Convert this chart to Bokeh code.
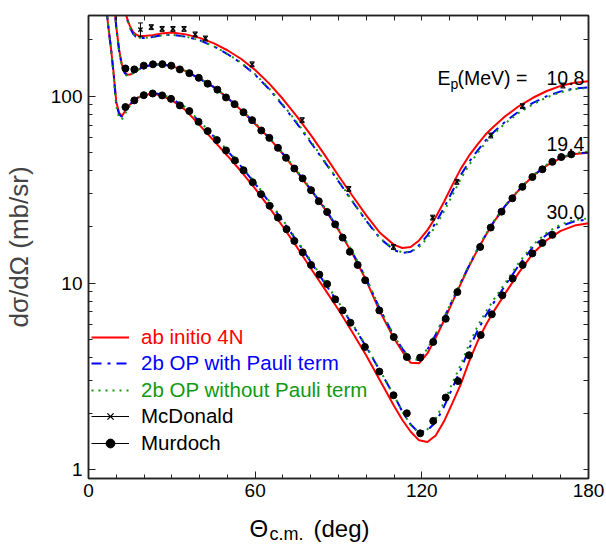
import numpy as np
from bokeh.plotting import figure
from bokeh.layouts import column
from bokeh.models import (Range1d, LogAxis, LinearAxis, FixedTicker, Legend, LegendItem,
                          Label, PrintfTickFormatter)
from bokeh.core.properties import value
from bokeh.embed import file_html
from bokeh.resources import INLINE

nan = float("nan")

# ---------------- data ----------------
angle = [6.5, 7, 8, 9, 9.5, 10, 11, 12, 13, 14, 15, 16, 17, 18, 20, 23, 26, 30, 35, 40,
         45, 50, 55, 60, 65, 70, 75, 80, 85, 90, 95, 100, 105, 110, 113, 116, 119, 122,
         125, 128, 131, 134, 137, 140, 143, 146, 150, 155, 160, 165, 170, 175, 180]

# E_p = 10.8 MeV
red_108 = [nan, nan, nan, nan, nan, nan, nan, 420, 290, 258, 235, 221, 214, 210.5, 209.5, 212, 216, 219, 214, 205,
           192, 176, 158, 138, 117, 96.5, 78, 62, 48.5, 37.5, 29.3, 23, 18.5, 16, 15.4, 15.6, 16.9, 19.2,
           22.5, 27.2, 33.5, 40.8, 48, 55, 62.5, 69, 78, 88.5, 98, 106.5, 113.5, 118, 120]
blue_108 = [nan, nan, nan, nan, nan, nan, nan, 420, 288, 254, 231, 216, 208, 205, 204.5, 207, 211, 213, 208, 199,
            185, 168, 150, 130, 109, 89, 71.5, 56.5, 44.5, 35, 27.3, 21.5, 17.3, 15, 14.5, 14.7, 15.9, 18,
            21, 25.3, 31, 37.8, 44.5, 51, 58, 64.5, 73, 83, 92, 100, 106, 110, 111.5]
green_108 = [nan, nan, nan, nan, nan, nan, nan, 420, 288, 254, 231, 216, 208.5, 205.5, 205, 207.5, 211, 213, 208, 199,
             185, 168.5, 151, 131, 110, 90, 72.5, 57.5, 45, 35.3, 27.5, 21.6, 17.4, 15.1, 14.6, 14.7, 15.6, 17.4,
             20.2, 24.2, 29.5, 36, 42.8, 49.5, 56.5, 63, 71.5, 81.5, 90.5, 98.5, 105, 109, 110.5]

# E_p = 19.4 MeV
red_194 = [nan, nan, nan, 360, 285, 235, 178, 148, 135, 130, 130.5, 133, 136, 139, 143.5, 147, 148, 145, 136, 124,
           112, 98, 84, 71, 59.8, 49, 39.5, 31.5, 25, 19.2, 14.4, 10.3, 7.0, 5.05, 4.3, 3.74, 3.72, 4.2,
           5.1, 6.3, 7.9, 9.9, 12.3, 15.0, 18.0, 21.3, 25.8, 31.5, 37.4, 42.6, 46.6, 49.0, 49.8]
blue_194 = [nan, nan, nan, 360, 285, 234, 176, 146, 133, 129, 130, 133, 136, 139, 143.5, 147, 148, 145, 136, 124,
            112, 98, 84.5, 71.5, 60, 49.2, 39.7, 31.7, 25.2, 19.4, 14.6, 10.5, 7.2, 5.2, 4.45, 3.9, 3.88, 4.4,
            5.3, 6.5, 8.1, 10.05, 12.4, 15.1, 18.1, 21.4, 25.9, 31.6, 37.5, 42.7, 46.8, 49.3, 50]
green_194 = [nan, nan, nan, 360, 285, 232, 173, 144, 131, 128, 129.5, 132.5, 135.5, 138.5, 143, 147, 148, 145, 136.5, 124.5,
             112.5, 98.5, 85, 72, 60.3, 49.5, 39.9, 31.9, 25.3, 19.5, 14.7, 10.6, 7.25, 5.2, 4.45, 3.9, 3.9, 4.45,
             5.35, 6.55, 8.15, 10.1, 12.5, 15.2, 18.2, 21.5, 26.0, 31.8, 37.7, 43.0, 47.0, 49.6, 50.5]

# E_p = 30.0 MeV
red_300 = [290, 245, 185, 135, 112, 93, 81.5, 78, 82.5, 87.5, 90.5, 93, 96, 98.5, 101.5, 103, 101, 95, 84, 70,
           58, 48, 39.5, 32, 25.5, 20, 15.6, 12.0, 9.3, 7.2, 5.45, 4.1, 3.0, 2.2, 1.85, 1.6, 1.44, 1.41,
           1.53, 1.82, 2.28, 2.87, 3.8, 4.85, 5.95, 7.1, 8.8, 11.4, 14.4, 17.0, 19.0, 20.3, 20.9]
blue_300 = [290, 245, 185, 134, 110, 91, 80, 77.5, 82, 87, 90.5, 93.5, 96.5, 99, 102, 104, 102.5, 97, 86.5, 73,
            61, 51, 42, 34, 27.2, 21.4, 16.8, 13.0, 10.0, 7.8, 6.0, 4.55, 3.38, 2.5, 2.05, 1.75, 1.58, 1.63,
            1.8, 2.18, 2.75, 3.44, 4.45, 5.55, 6.7, 7.9, 9.7, 12.5, 15.6, 18.2, 20.2, 21.4, 21.9]
green_300 = [290, 245, 183, 130, 106, 88, 77, 75, 79.5, 85, 89, 92.5, 95.5, 98, 101.5, 104, 102.5, 97.5, 87, 73.5,
             61.5, 51.5, 42.5, 34.5, 27.5, 21.7, 17.0, 13.2, 10.2, 7.9, 6.05, 4.6, 3.4, 2.5, 2.05, 1.74, 1.58, 1.65,
             1.88, 2.3, 2.92, 3.65, 4.7, 5.85, 7.0, 8.2, 10.0, 12.9, 16.0, 18.6, 20.6, 21.7, 22.2]

# McDonald data (10.8 MeV)
mcd_theta = [18.7, 22.6, 26.5, 30.4, 34.4, 38.4, 42.1, 58.9, 76.9, 93.7, 109.8, 123.9, 132.6, 144.8, 156.2, 170.8]
mcd_xs = [227, 234, 229, 229, 229, 214, 203.5, 148, 74.4, 31.9, 15.6, 22.4, 34.8, 61.6, 88.4, 114]
mcd_rel_err = [0.085, 0.03, 0.03, 0.03, 0.03, 0.03, 0.03, 0.03, 0.03, 0.03, 0.03, 0.03, 0.03, 0.03, 0.03, 0.03]

# Murdoch data (19.4 MeV)
mur194_theta = [13.3, 16.5, 19.9, 23.2, 26.6, 29.8, 32.9, 36.3, 39.7, 42.9, 46.4, 49.5, 52.6, 55.8, 58.9, 62.2,
                65.1, 68.2, 71.1, 74.1, 77.1, 80.1, 82.9, 85.9, 88.8, 91.5, 94.1, 96.9, 99.6, 104.7, 109.9,
                114.6, 119.4, 124.1, 128.6, 132.8, 141, 144.8, 148.7, 152.6, 156.2, 159.8, 163.4, 167, 170.2, 173.8]
mur194_xs = [140.6, 139, 145.6, 148, 148.3, 145.6, 139, 132.7, 125.3, 116.6, 108.3, 98.4, 90.6, 82, 74.4, 65.5,
             59.8, 52.9, 46.8, 41.0, 36.3, 31.4, 27.4, 24.0, 20.6, 17.5, 14.7, 12.5, 10.35, 7.14, 5.14,
             4.02, 3.99, 4.84, 6.44, 8.95, 15.6, 19.8, 24.1, 28.4, 32.7, 36.9, 40.6, 44.5, 47.2, 48.8]

# Murdoch data (30.0 MeV)
mur300_theta = [13.3, 16.5, 19.9, 23.1, 26.5, 29.7, 32.9, 36.3, 39.6, 42.9, 46.2, 49.5, 52.7, 55.8, 59.1, 62.1,
                65.2, 68.2, 71.3, 74.1, 77.1, 80.1, 83.1, 85.9, 88.8, 91.5, 94.3, 99.5, 104.7, 109.8, 114.6,
                119.4, 124.1, 128.6, 133, 137, 141.2, 145.2, 149, 152.7, 156.3, 159.8, 163.4, 167]
mur300_xs = [87.4, 94.9, 101.2, 103.3, 100.9, 96.7, 89.2, 83.2, 72.9, 65, 58.2, 51.2, 45.3, 40.1, 34.6, 29.9,
             25.9, 22.4, 19.4, 16.8, 14.6, 12.5, 11.1, 9.88, 8.18, 7.14, 6.13, 4.55, 3.36, 2.51, 2.01,
             1.57, 1.83, 2.44, 2.99, 4.11, 5.27, 6.80, 8.6, 10.57, 12.5, 14.4, 16.4, 18.1]

x_ticks = [0, 60, 120, 180]
x_minor = list(range(0, 181, 10))
y_ticks = [1, 10, 100]
y_minor = [2, 3, 4, 5, 6, 7, 8, 9, 20, 30, 40, 50, 60, 70, 80, 90, 200]
y_all = [1, 2, 3, 4, 5, 6, 7, 8, 9, 10, 20, 30, 40, 50, 60, 70, 80, 90, 100, 200]

energy_labels = ["10.8", "19.4", "30.0"]

# ---------------- styles ----------------
FONT = "Liberation Sans"
RED = "#ff0000"
BLUE = "#0000ff"
GREEN = "#119911"

p = figure(width=606, height=506, x_range=Range1d(0, 180), y_range=Range1d(0.9, 270),
           y_axis_type="log", output_backend="svg", toolbar_location=None,
           min_border_left=87, min_border_right=18, min_border_top=15, min_border_bottom=28)
p.grid.visible = False
p.outline_line_color = "#222222"
p.outline_line_width = 1.5
p.background_fill_color = "white"

def style_axis(ax):
    ax.axis_line_color = "#222222"
    ax.axis_line_width = 1.5
    ax.major_tick_in = 7
    ax.major_tick_out = 0
    ax.minor_tick_in = 4
    ax.minor_tick_out = 0
    ax.major_tick_line_color = "#222222"
    ax.minor_tick_line_color = "#222222"
    ax.major_label_text_font = FONT
    ax.major_label_text_color = "black"
    ax.major_label_text_font_size = "19px"

p.xaxis.ticker = FixedTicker(ticks=x_ticks, minor_ticks=x_minor)
p.yaxis.ticker = FixedTicker(ticks=y_ticks, minor_ticks=y_minor)
p.yaxis.formatter = PrintfTickFormatter(format="%d")
style_axis(p.xaxis[0])
style_axis(p.yaxis[0])
p.xaxis.major_label_standoff = 5
p.yaxis.major_label_standoff = 6
p.yaxis.axis_label = "dσ/dΩ (mb/sr)"
p.yaxis.axis_label_text_font = FONT
p.yaxis.axis_label_text_font_size = "26px"
p.yaxis.axis_label_text_font_style = "normal"
p.yaxis.axis_label_standoff = 14

# mirrored tick marks on top and right (no labels)
top_ax = LinearAxis(ticker=FixedTicker(ticks=[], minor_ticks=x_minor))
style_axis(top_ax)
top_ax.minor_tick_in = 5
top_ax.major_label_standoff = 0
p.add_layout(top_ax, "above")
right_ax = LogAxis(ticker=FixedTicker(ticks=[], minor_ticks=y_all))
style_axis(right_ax)
right_ax.minor_tick_in = 5
right_ax.major_label_standoff = 0
p.add_layout(right_ax, "right")

# ---------------- curves ----------------
reds, blues, greens = [], [], []
for ys in (red_108, red_194, red_300):
    reds.append(p.line(angle, ys, line_color=RED, line_width=2))
for ys in (blue_108, blue_194, blue_300):
    blues.append(p.line(angle, ys, line_color=BLUE, line_width=2, line_dash="10 6 3 6"))
for ys in (green_108, green_194, green_300):
    greens.append(p.line(angle, ys, line_color=GREEN, line_width=2, line_dash="2 5"))

# ---------------- data ----------------
mcd_lo = [v * (1 - e) for v, e in zip(mcd_xs, mcd_rel_err)]
mcd_hi = [v * (1 + e) for v, e in zip(mcd_xs, mcd_rel_err)]
mcd_bar = p.segment(x0=mcd_theta, y0=mcd_lo, x1=mcd_theta, y1=mcd_hi, line_color="black", line_width=1)
p.scatter(mcd_theta, mcd_lo, marker="dash", size=5, line_color="black", line_width=1)
p.scatter(mcd_theta, mcd_hi, marker="dash", size=5, line_color="black", line_width=1)
mcd_pts = p.scatter(mcd_theta, mcd_xs, marker="x", size=6, line_color="black", line_width=1.3)

mur_bar = p.segment(x0=mur194_theta, y0=mur194_xs, x1=mur194_theta, y1=mur194_xs, line_color="black", line_width=1)
p.segment(x0=mur300_theta, y0=mur300_xs, x1=mur300_theta, y1=mur300_xs, line_color="black", line_width=1)
mur_pts = p.scatter(mur194_theta, mur194_xs, marker="circle", size=7, color="black")
p.scatter(mur300_theta, mur300_xs, marker="circle", size=7, color="black")

# ---------------- legend (one per entry, own colour) ----------------
entries = [("ab initio 4N", [reds[0]], RED, 129),
           ("2b OP with Pauli term", [blues[0]], BLUE, 103),
           ("2b OP without Pauli term", [greens[0]], GREEN, 76),
           ("McDonald", [mcd_bar, mcd_pts], "black", 50),
           ("Murdoch", [mur_bar, mur_pts], "black", 23)]
for lab_txt, rends, col, bottom in entries:
    leg = Legend(items=[LegendItem(label=lab_txt, renderers=rends)], location=(3, bottom),
                 background_fill_alpha=0, border_line_alpha=0, padding=0, margin=0, spacing=0,
                 glyph_width=38, glyph_height=22, label_height=22, label_standoff=12,
                 label_text_font=FONT, label_text_font_size="20.5px", label_text_color=col)
    p.add_layout(leg)

# ---------------- texts inside the frame ----------------
def lab(fig, x, y, t, size, color="black"):
    fig.add_layout(Label(x=x, y=y, x_units="screen", y_units="screen", text=t,
                         text_font=FONT, text_font_size=size, text_color=color,
                         text_baseline="alphabetic", text_align="left"))

lab(p, 349, 401, "E", "19.5px")
lab(p, 362, 395, "p", "14px")
lab(p, 369, 401, "(MeV) =", "19.5px")
lab(p, 458, 401, energy_labels[0], "19.5px")
lab(p, 458, 335, energy_labels[1], "19.5px")
lab(p, 458, 267, energy_labels[2], "19.5px")

# ---------------- x-axis title strip  Θ_c.m. (deg) ----------------
q = figure(width=606, height=40, x_range=Range1d(0, 606), y_range=Range1d(0, 40),
           output_backend="svg", toolbar_location=None, min_border=0,
           x_axis_location=None, y_axis_location=None)
q.grid.visible = False
q.outline_line_color = None
lab(q, 161, 18, "Θ", "24px")
lab(q, 181, 13, "c.m.", "18px")
lab(q, 225, 18, "(deg)", "24px")

open("out.html", "w").write(file_html(column(p, q, spacing=0), INLINE))
